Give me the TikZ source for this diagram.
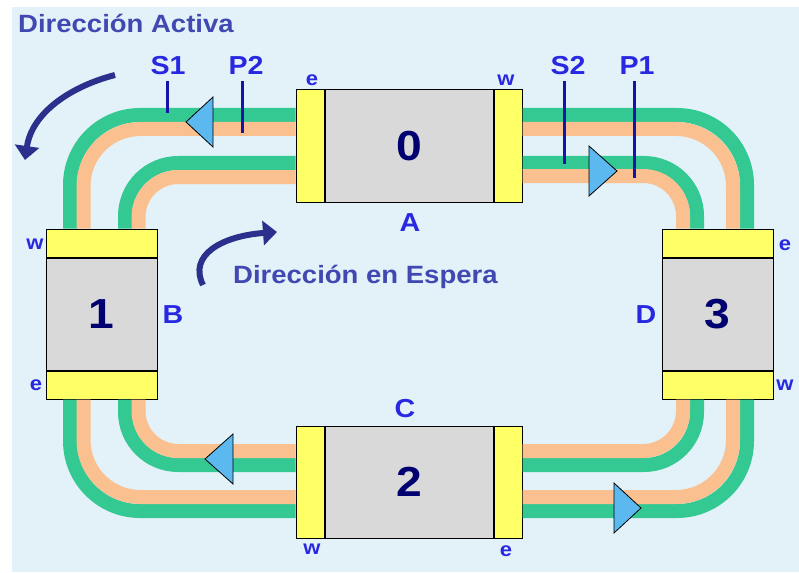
\documentclass[tikz,border=0pt]{standalone}
\usepackage{fontspec}
\setmainfont{Liberation Sans}[FakeStretch=1.1]
\definecolor{bgblue}{RGB}{227,242,249}
\definecolor{trkgreen}{RGB}{52,201,146}
\definecolor{trkorange}{RGB}{250,192,143}
\definecolor{portyellow}{RGB}{255,255,102}
\definecolor{boxgray}{RGB}{217,217,217}
\definecolor{trisky}{RGB}{91,185,240}
\definecolor{sensorblue}{RGB}{20,20,170}
\definecolor{lblblue}{RGB}{40,40,225}
\definecolor{titleblue}{RGB}{65,72,178}
\definecolor{numnavy}{RGB}{0,0,112}
\definecolor{arrownavy}{RGB}{42,48,140}
\usepackage{tikz}
\usetikzlibrary{arrows.meta}

\begin{document}
\begin{tikzpicture}[x=1pt,y=-1pt,
  station/.style={draw=black,line width=1pt,fill=boxgray,inner sep=0pt,
    font=\fontsize{42}{42}\selectfont\bfseries,text=numnavy},
  hport/.style={draw=black,line width=1pt,fill=portyellow,inner sep=0pt,
    minimum width=28pt,minimum height=112pt},
  vport/.style={draw=black,line width=1pt,fill=portyellow,inner sep=0pt,
    minimum width=111pt,minimum height=28pt},
  gtrack/.style={trkgreen,line width=14pt},
  otrack/.style={trkorange,line width=14pt},
  tri/.style={draw=black,line width=0.8pt,fill=trisky},
  sensor/.style={sensorblue,line width=3pt},
  tag/.style={inner sep=0pt,font=\fontsize{26}{26}\selectfont\bfseries,text=lblblue},
  side/.style={inner sep=0pt,font=\fontsize{20}{20}\selectfont\bfseries,text=lblblue},
  title/.style={inner sep=0pt,anchor=base west,font=\fontsize{25}{25}\selectfont\bfseries,text=titleblue},
  turn/.style={arrownavy,line width=6pt,-{Triangle[length=14pt,width=24pt]}}
]
  % Background
  \fill[white] (0,0) rectangle (799,572);
  \fill[bgblue] (12,7) rectangle (799,572);
  \useasboundingbox (0,0) rectangle (799,572);

  % Stations and their ports
  \node[station,minimum width=168pt,minimum height=112pt] (st0) at (409,146) {0};
  \node[hport,anchor=east] (p0e) at (st0.west) {};
  \node[hport,anchor=west] (p0w) at (st0.east) {};
  \node[station,minimum width=111pt,minimum height=112pt] (st1) at (101.5,314) {1};
  \node[vport,anchor=south] (p1w) at (st1.north) {};
  \node[vport,anchor=north] (p1e) at (st1.south) {};
  \node[station,minimum width=168pt,minimum height=112pt] (st2) at (409,482) {2};
  \node[hport,anchor=east] (p2w) at (st2.west) {};
  \node[hport,anchor=west] (p2e) at (st2.east) {};
  \node[station,minimum width=111pt,minimum height=112pt] (st3) at (717.5,314) {3};
  \node[vport,anchor=south] (p3e) at (st3.north) {};
  \node[vport,anchor=north] (p3w) at (st3.south) {};

  % Tracks 0 - 1
  \draw[gtrack,rounded corners=70pt] ([yshift=31pt]p0e.west) -| ([xshift=-31.5pt]p1w.north);
  \draw[otrack,rounded corners=57pt] ([yshift=17pt]p0e.west) -| ([xshift=-18pt]p1w.north);
  \draw[gtrack,rounded corners=53pt] ([yshift=-17pt]p0e.west) -| ([xshift=23.5pt]p1w.north);
  \draw[otrack,rounded corners=40pt] ([yshift=-31pt]p0e.west) -| ([xshift=37pt]p1w.north);
  % Tracks 0 - 3
  \draw[gtrack,rounded corners=70pt] ([yshift=31pt]p0w.east) -| ([xshift=29.5pt]p3e.north);
  \draw[otrack,rounded corners=57pt] ([yshift=17pt]p0w.east) -| ([xshift=15.5pt]p3e.north);
  \draw[gtrack,rounded corners=53pt] ([yshift=-17pt]p0w.east) -| ([xshift=-20.5pt]p3e.north);
  \draw[otrack,rounded corners=40pt] ([yshift=-30pt]p0w.east) -| ([xshift=-34.5pt]p3e.north);
  % Tracks 1 - 2
  \draw[gtrack,rounded corners=70pt] ([xshift=-31.5pt]p1e.south) |- ([yshift=-29pt]p2w.west);
  \draw[otrack,rounded corners=57pt] ([xshift=-18pt]p1e.south) |- ([yshift=-15pt]p2w.west);
  \draw[gtrack,rounded corners=53pt] ([xshift=23.5pt]p1e.south) |- ([yshift=17pt]p2w.west);
  \draw[otrack,rounded corners=40pt] ([xshift=37pt]p1e.south) |- ([yshift=31pt]p2w.west);
  % Tracks 2 - 3
  \draw[gtrack,rounded corners=70pt] ([yshift=-29pt]p2e.east) -| ([xshift=29.5pt]p3w.south);
  \draw[otrack,rounded corners=57pt] ([yshift=-15pt]p2e.east) -| ([xshift=15.5pt]p3w.south);
  \draw[gtrack,rounded corners=53pt] ([yshift=17pt]p2e.east) -| ([xshift=-20.5pt]p3w.south);
  \draw[otrack,rounded corners=40pt] ([yshift=31pt]p2e.east) -| ([xshift=-34.5pt]p3w.south);

  % Direction triangles
  \filldraw[tri] (186,122) -- (213,97) -- (213,147) -- cycle;
  \filldraw[tri] (617,171) -- (589,146) -- (589,196) -- cycle;
  \filldraw[tri] (205,459) -- (233,434) -- (233,484) -- cycle;
  \filldraw[tri] (641,508) -- (614,483) -- (614,533) -- cycle;

  % Sensors
  \node[tag,anchor=base] (lS1) at (168,75) {S1};
  \node[tag,anchor=base] (lP2) at (246,75) {P2};
  \node[tag,anchor=base] (lS2) at (568,75) {S2};
  \node[tag,anchor=base] (lP1) at (637,75) {P1};
  \draw[sensor] ([xshift=-1pt,yshift=-6pt]lS1.south) -- +(0,32);
  \draw[sensor] ([xshift=-4pt,yshift=-6pt]lP2.south) -- +(0,52);
  \draw[sensor] ([xshift=-4pt,yshift=-6pt]lS2.south) -- +(0,83);
  \draw[sensor] ([xshift=-3pt,yshift=-6pt]lP1.south) -- +(0,97);

  % Line names
  \node[tag] (lA) at (410,223) {A};
  \node[tag] (lB) at (173,315) {B};
  \node[tag] (lC) at (405,409) {C};
  \node[tag] (lD) at (646,315) {D};

  % Port sides
  \node[side] (e0) at (312,80) {e};
  \node[side] (w0) at (506,80) {w};
  \node[side] (w1) at (35,244) {w};
  \node[side] (e1) at (36,385) {e};
  \node[side] (w2) at (312,549) {w};
  \node[side] (e2) at (506,551) {e};
  \node[side] (e3) at (785,245) {e};
  \node[side] (w3) at (785,385) {w};

  % Directions
  \node[title] (actv) at (18,33) {Dirección Activa};
  \node[title] (stby) at (233,283) {Dirección en Espera};
  \draw[turn] (115,75) .. controls (72,86) and (32,112) .. (25,160);
  \draw[turn] (203,285) .. controls (188,255) and (222,236) .. (277,232);
\end{tikzpicture}
\end{document}
